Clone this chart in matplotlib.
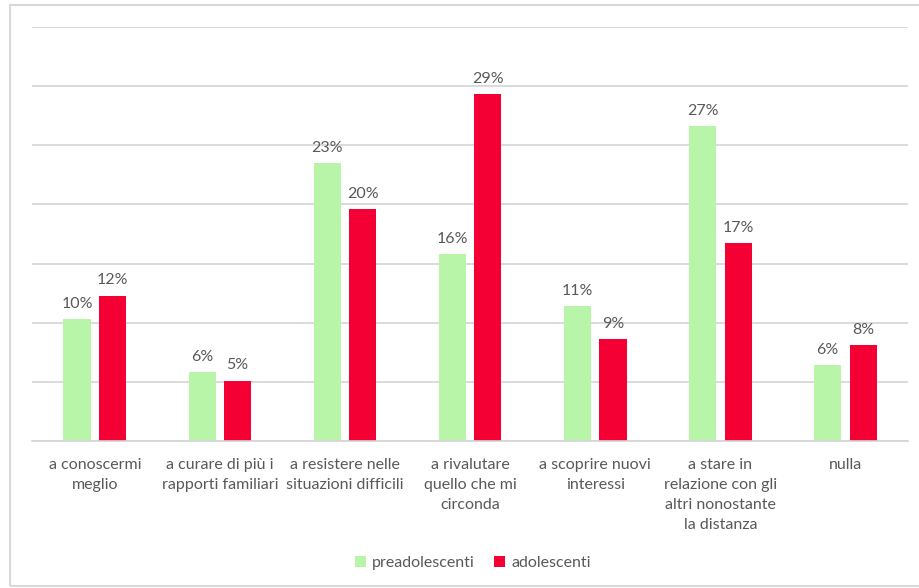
import matplotlib.pyplot as plt
import numpy as np
from matplotlib.patches import Rectangle

# dati
categorie = ["a conoscermi\nmeglio", "a curare di più i\nrapporti familiari",
             "a resistere nelle\nsituazioni difficili", "a rivalutare\nquello che mi\ncirconda",
             "a scoprire nuovi\ninteressi", "a stare in\nrelazione con gli\naltri nonostante\nla distanza",
             "nulla"]
preadolescenti = [10.3, 5.8, 23.5, 15.8, 11.4, 26.6, 6.4]
adolescenti = [12.3, 5.1, 19.6, 29.3, 8.6, 16.7, 8.1]
etichette_pre = ["10%", "6%", "23%", "16%", "11%", "27%", "6%"]
etichette_ado = ["12%", "5%", "20%", "29%", "9%", "17%", "8%"]

plt.rcParams['font.family'] = ['Lato', 'DejaVu Sans']
grigio = '#595959'
verde = '#b9f5a9'
rosso = '#f50034'

fig = plt.figure(figsize=(9.2, 5.88), dpi=100)
ax = fig.add_axes([0.035, 0.25, 0.952, 0.704])

x = np.arange(len(categorie))
w = 0.216
off = 0.142
b1 = ax.bar(x - off, preadolescenti, w, color=verde, label='preadolescenti', zorder=2)
b2 = ax.bar(x + off, adolescenti, w, color=rosso, label='adolescenti', zorder=2)

for rect, t in zip(b1, etichette_pre):
    ax.annotate(t, (rect.get_x() + rect.get_width() / 2, rect.get_height()),
                xytext=(0, 6), textcoords='offset points', ha='center', va='bottom',
                fontsize=11.5, color=grigio)
for rect, t in zip(b2, etichette_ado):
    ax.annotate(t, (rect.get_x() + rect.get_width() / 2, rect.get_height()),
                xytext=(0, 6), textcoords='offset points', ha='center', va='bottom',
                fontsize=11.5, color=grigio)

ax.set_xlim(-0.5, len(categorie) - 0.5)
ax.set_ylim(0, 35)
ax.set_yticks(np.arange(0, 36, 5))
ax.yaxis.grid(True, color='#d4d4d4', linewidth=1.2, zorder=0)
ax.tick_params(axis='y', left=False, labelleft=False)
ax.tick_params(axis='x', length=0, pad=12)
ax.set_xticks(x)
ax.set_xticklabels(categorie, fontsize=11.5, color=grigio, linespacing=1.55, va='top')
for s in ['top', 'right', 'left']:
    ax.spines[s].set_visible(False)
ax.spines['bottom'].set_color('#d4d4d4')
ax.spines['bottom'].set_linewidth(1.2)

fig.legend(loc='center', bbox_to_anchor=(0.514, 0.043), ncol=2, frameon=False,
           fontsize=11.5, labelcolor=grigio, handlelength=0.7, handleheight=0.7,
           handletextpad=0.4, columnspacing=1.2)

# cornice del grafico
fig.patches.append(Rectangle((0.011, 0.003), 0.99, 0.988, transform=fig.transFigure,
                             fill=False, edgecolor='#d9d9d9', linewidth=1.5))

plt.savefig('out.png', dpi=100)
